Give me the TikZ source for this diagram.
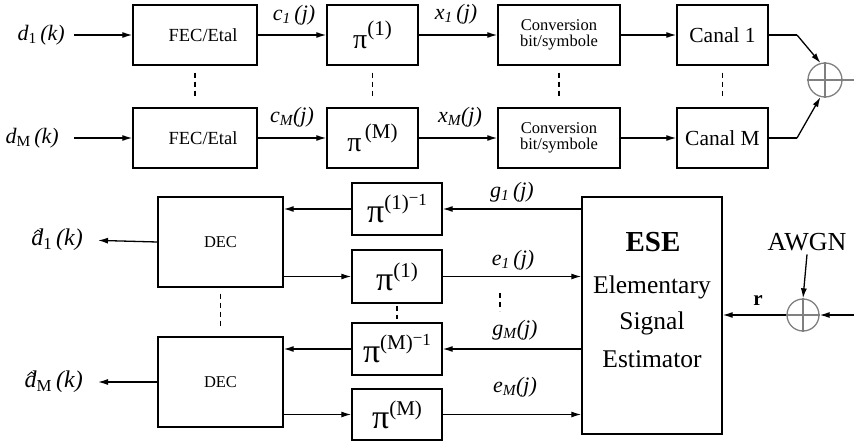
\documentclass[tikz,border=0pt]{standalone}
\usepackage{fontspec}
\setmainfont{Liberation Serif}
\usetikzlibrary{arrows.meta}
\newcommand\myfs[1]{\fontsize{#1}{#1}\selectfont}
% pi with superscript: #1 size of pi, #2 raise, #3 superscript
\newcommand\pisup[3]{{\myfs{#1}π}\raisebox{#2}{\myfs{21}#3}}
\newcommand\inv{\raisebox{4pt}{\myfs{17}\raisebox{2pt}{−}1}}
\begin{document}
\begin{tikzpicture}[x=1pt,y=-1pt,
 box/.style={draw,line width=1.4pt,inner sep=0pt,align=center},
 arr/.style={line width=1.3pt,-{Latex[length=10pt,width=6pt]}},
 ln/.style={line width=1.3pt},
 dsh/.style={line width=1.3pt,dash pattern=on 5pt off 4pt},
 lab/.style={font=\myfs{22}\itshape,inner sep=1pt},
 sumc/.style={circle,draw=gray,line width=1.3pt,inner sep=0pt},
 hat/.style={line width=0.9pt,line join=miter},
]
\useasboundingbox (0,0) rectangle (854,444);

% ---------- top: transmitter ----------
\node[box,minimum width=124pt,minimum height=60pt,font=\myfs{18.5}] (fec1) at (195,35) {\hspace*{16pt}FEC/Etal};
\node[box,minimum width=124pt,minimum height=60pt,font=\myfs{18.5}] (fecM) at (195,138) {\hspace*{16pt}FEC/Etal};
\node[box,minimum width=91pt,minimum height=60pt] (pi1) at (372.5,35) {\pisup{28}{13pt}{(1)}};
\node[box,minimum width=91pt,minimum height=60pt] (piM) at (372.5,138) {\pisup{28}{13pt}{\,(M)}};
\node[box,minimum width=122pt,minimum height=60pt,font=\myfs{16.5}] (conv1) at (559,35) {Conversion\\bit/symbole};
\node[box,minimum width=122pt,minimum height=60pt,font=\myfs{16.5}] (convM) at (559,138) {Conversion\\bit/symbole};
\node[box,minimum width=91pt,minimum height=60pt,font=\myfs{21.5}] (can1) at (722.5,35) {Canal 1};
\node[box,minimum width=91pt,minimum height=60pt,font=\myfs{21.5}] (canM) at (722.5,138) {Canal M};
\node[sumc,minimum size=34pt] (sum1) at (825,80) {};
\draw[gray,line width=1.3pt] (sum1.north) -- (sum1.south) (sum1.west) -- (sum1.east);

\node[lab,anchor=east] (d1) at (66,35) {d\textsubscript{\upshape 1}\,(k)};
\node[lab,anchor=east] (dM) at (60,138) {d\textsubscript{\upshape M}\,(k)};
\node[lab] (c1l) at (294,15) {c\textsubscript{1}\,(j)};
\node[lab] (cMl) at (292,117) {c\textsubscript{M}(j)};
\node[lab] (x1l) at (456,14) {x\textsubscript{1}\,(j)};
\node[lab] (xMl) at (460,117) {x\textsubscript{M}(j)};

\coordinate (k1) at (797,35);
\coordinate (kM) at (797,138);
\coordinate (out1) at (856,80);

\draw[arr,shorten <=8pt] (d1.east) -- (fec1.west);
\draw[arr,shorten <=14pt] (dM.east) -- (fecM.west);
\draw[arr] (fec1.east) -- (pi1.west);
\draw[arr] (fecM.east) -- (piM.west);
\draw[arr] (pi1.east) -- (conv1.west);
\draw[arr] (piM.east) -- (convM.west);
\draw[arr] (conv1.east) -- (can1.west);
\draw[arr] (convM.east) -- (canM.west);
\draw[ln] (can1.east) -- (k1);
\draw[arr] (k1) -- (sum1.105);
\draw[ln] (canM.east) -- (kM);
\draw[arr] (kM) -- (sum1.255);
\draw[ln,gray] (sum1.east) -- (out1);

\draw[dsh,shorten <=7pt,shorten >=8pt] (fec1.south) -- (fecM.north);
\draw[dsh,shorten <=7pt,shorten >=8pt] (pi1.south) -- (piM.north);
\draw[dsh,shorten <=7pt,shorten >=8pt] (conv1.south) -- (convM.north);
\draw[dsh,shorten <=7pt,shorten >=8pt] (can1.south) -- (canM.north);

% ---------- bottom: receiver ----------
\node[box,minimum width=125pt,minimum height=90pt,font=\myfs{16.5}] (dec1) at (220.5,242) {DEC};
\node[box,minimum width=125pt,minimum height=90pt,font=\myfs{16.5}] (decM) at (220.5,382) {DEC};
\node[box,minimum width=90pt,minimum height=52pt] (pinv1) at (397,209) {\pisup{34}{13pt}{(1)\inv}};
\node[box,minimum width=90pt,minimum height=53pt] (pib1) at (397,276.5) {\pisup{34}{13pt}{(1)}};
\node[box,minimum width=90pt,minimum height=52pt] (pinvM) at (397,349) {\pisup{34}{13pt}{(M)\inv}};
\node[box,minimum width=90pt,minimum height=51pt] (pibM) at (397,414.5) {\pisup{34}{13pt}{(M)}};
\node[box,minimum width=140pt,minimum height=237pt] (ese) at (652,315.5) {};
\node[font=\myfs{29}\bfseries] (eset) at (653,242) {ESE};
\node[font=\myfs{25.5}] (ese2) at (652,287) {Elementary};
\node[font=\myfs{25.5}] (ese3) at (652,323) {Signal};
\node[font=\myfs{25.5}] (ese4) at (652,359) {Estimator};

\node[lab,font=\myfs{24}\itshape,anchor=east] (dh1) at (84,240) {d\textsubscript{\upshape 1}\,(k)};
\node[lab,font=\myfs{24}\itshape,anchor=east] (dhM) at (84,382) {d\textsubscript{\upshape M}\,(k)};
\draw[hat] ([xshift=4pt,yshift=6.5pt]dh1.west) -- ([xshift=8pt,yshift=10pt]dh1.west) -- ([xshift=12pt,yshift=6.5pt]dh1.west);
\draw[hat] ([xshift=4pt,yshift=6.5pt]dhM.west) -- ([xshift=8pt,yshift=10pt]dhM.west) -- ([xshift=12pt,yshift=6.5pt]dhM.west);
\node[lab] (g1l) at (512,192) {g\textsubscript{1}\,(j)};
\node[lab] (e1l) at (513,260) {e\textsubscript{1}\,(j)};
\node[lab] (gMl) at (515,330) {g\textsubscript{M}(j)};
\node[lab] (eMl) at (515,387) {e\textsubscript{M}(j)};

\node[font=\myfs{26}] (awgn) at (807,242) {AWGN};
\node[sumc,minimum size=32pt] (sum2) at (803,315) {};
\draw[gray,line width=1.3pt] (sum2.north) -- (sum2.south) (sum2.west) -- (sum2.east);
\node[font=\myfs{21}\bfseries] (rl) at (758,301) {r};
\coordinate (in2) at (856,315);

\draw[arr] (pinv1.west) -- (pinv1.west -| dec1.east);
\draw[arr] (dec1.east |- pib1) -- (pib1.west);
\draw[arr] (pinvM.west) -- (pinvM.west -| decM.east);
\draw[arr] (decM.east |- pibM) -- (pibM.west);
\draw[arr,shorten >=14pt] (dec1.west) -- (dh1.east);
\draw[arr,shorten >=14pt] (decM.west) -- (dhM.east);
\draw[arr] (ese.west |- pinv1) -- (pinv1.east);
\draw[arr] (pib1.east) -- (pib1.east -| ese.west);
\draw[arr] (ese.west |- pinvM) -- (pinvM.east);
\draw[arr] (pibM.east) -- (pibM.east -| ese.west);
\draw[arr] (awgn.south) -- (sum2.north);
\draw[arr] (in2) -- (sum2.east);
\draw[arr] (sum2.west) -- (sum2.west -| ese.east);

\coordinate (dt1) at (500,293);
\coordinate (dt2) at (500,311);
\draw[dsh] (dt1) -- (dt2);
\draw[dsh,shorten <=6pt,shorten >=7pt] (dec1.south) -- (decM.north);
\draw[dsh,shorten <=2pt,shorten >=3pt] (pib1.south) -- (pinvM.north);
\end{tikzpicture}
\end{document}
